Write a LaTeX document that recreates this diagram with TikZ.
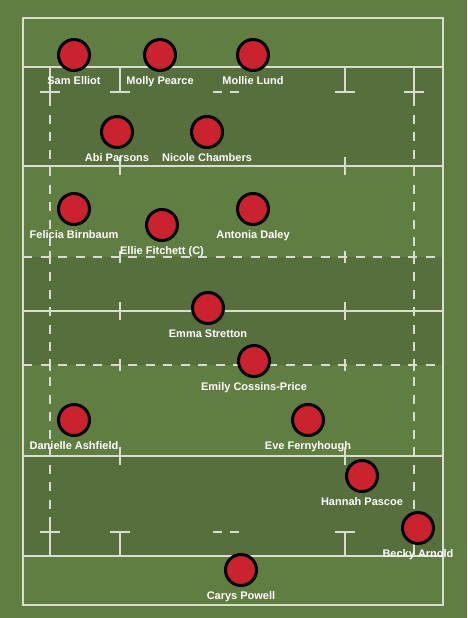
\documentclass[tikz,border=0pt]{standalone}
\usepackage{fontspec}
\setmainfont{Liberation Sans}
\usetikzlibrary{positioning}
\definecolor{grassLight}{RGB}{97,126,66}
\definecolor{grassDark}{RGB}{86,111,60}
\definecolor{pitchLine}{RGB}{216,222,206}
\definecolor{shirtRed}{RGB}{202,34,47}

\begin{document}
\begin{tikzpicture}[x=1pt, y=-1pt, font=\fontsize{11}{12}\selectfont\bfseries,
  line/.style={draw=pitchLine, line width=1.5pt},
  dashline/.style={line, dash pattern=on 9pt off 8.5pt},
  player/.style={circle, draw=black, fill=shirtRed, line width=3pt, minimum size=31pt, inner sep=0pt},
  tag/.style={text=white, inner sep=0pt, text height=8pt, text depth=0pt}]
  % grass and bands
  \fill[grassLight] (0,0) rectangle (467,618);
  \useasboundingbox (0,0) rectangle (467,618);
  \fill[grassDark] (23,67) rectangle (443,166);
  \fill[grassDark] (23,257) rectangle (443,365);
  \fill[grassDark] (23,456) rectangle (443,556);
  % outline and full lines
  \draw[line] (23,18) rectangle (443,605);
  \draw[line] (23,67) -- (443,67);
  \draw[line] (23,166) -- (443,166);
  \draw[line] (23,311) -- (443,311);
  \draw[line] (23,456) -- (443,456);
  \draw[line] (23,556) -- (443,556);
  % dashed lines
  \draw[dashline] (23,257) -- (443,257);
  \draw[dashline] (23,365) -- (443,365);
  \draw[dashline] (50,97) -- (50,524);
  \draw[dashline] (414,97) -- (414,524);
  % crosses and ticks
  \foreach \xx in {50,120,345,414}{
    \draw[line] (\xx,251) -- (\xx,263);
    \draw[line] (\xx,359) -- (\xx,371);
  }
  \foreach \xx in {120,345}{
    \draw[line] (\xx,157) -- (\xx,175);
    \draw[line] (\xx,302) -- (\xx,320);
    \draw[line] (\xx,447) -- (\xx,465);
  }
  % 5m marks, top
  \draw[line] (50,67) -- (50,97);   \draw[line] (40,92) -- (60,92);
  \draw[line] (120,67) -- (120,92); \draw[line] (110,92) -- (130,92);
  \draw[line] (345,67) -- (345,92); \draw[line] (335,92) -- (355,92);
  \draw[line] (414,67) -- (414,97); \draw[line] (404,92) -- (424,92);
  \draw[line] (213,92) -- (222,92); \draw[line] (230,92) -- (239,92);
  % 5m marks, bottom
  \draw[line] (50,524) -- (50,556);   \draw[line] (40,532) -- (60,532);
  \draw[line] (120,532) -- (120,556); \draw[line] (110,532) -- (130,532);
  \draw[line] (345,532) -- (345,556); \draw[line] (335,532) -- (355,532);
  \draw[line] (414,524) -- (414,556); \draw[line] (404,532) -- (424,532);
  \draw[line] (213,532) -- (222,532); \draw[line] (230,532) -- (239,532);
  % players
  \node[player] (elliot) at (74,55){};
  \node[tag, below=4pt of elliot] (elliotT){Sam Elliot};
  \node[player] (pearce) at (160,55){};
  \node[tag, below=4pt of pearce] (pearceT){Molly Pearce};
  \node[player] (lund) at (253,55){};
  \node[tag, below=4pt of lund] (lundT){Mollie Lund};
  \node[player] (parsons) at (117,132){};
  \node[tag, below=4pt of parsons] (parsonsT){Abi Parsons};
  \node[player] (chambers) at (207,132){};
  \node[tag, below=4pt of chambers] (chambersT){Nicole Chambers};
  \node[player] (birnbaum) at (74,209){};
  \node[tag, below=4pt of birnbaum] (birnbaumT){Felicia Birnbaum};
  \node[player] (fitchett) at (162,225){};
  \node[tag, below=4pt of fitchett] (fitchettT){Ellie Fitchett (C)};
  \node[player] (daley) at (253,209){};
  \node[tag, below=4pt of daley] (daleyT){Antonia Daley};
  \node[player] (stretton) at (208,308){};
  \node[tag, below=4pt of stretton] (strettonT){Emma Stretton};
  \node[player] (cossins) at (254,361){};
  \node[tag, below=4pt of cossins] (cossinsT){Emily Cossins-Price};
  \node[player] (ashfield) at (74,420){};
  \node[tag, below=4pt of ashfield] (ashfieldT){Danielle Ashfield};
  \node[player] (fernyhough) at (308,420){};
  \node[tag, below=4pt of fernyhough] (fernyhoughT){Eve Fernyhough};
  \node[player] (pascoe) at (362,476){};
  \node[tag, below=4pt of pascoe] (pascoeT){Hannah Pascoe};
  \node[player] (arnold) at (418,528){};
  \node[tag, below=4pt of arnold] (arnoldT){Becky Arnold};
  \node[player] (powell) at (241,570){};
  \node[tag, below=4pt of powell] (powellT){Carys Powell};
\end{tikzpicture}
\end{document}
